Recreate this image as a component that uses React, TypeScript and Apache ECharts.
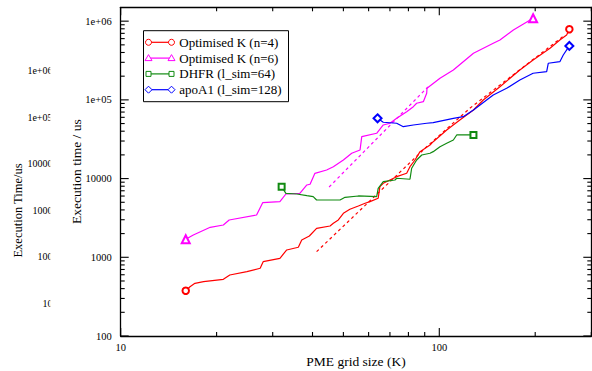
import React, { useEffect, useRef } from 'react';
import * as echarts from 'echarts';

// ---------- data ----------
const xMin = 10;
const xMax = 300;
const yMin = 100;
const yMax = 1500000;

const xMajorTicks = [10, 100];
const xMinorTicks = [20, 30, 40, 50, 60, 70, 80, 90, 200, 300];
const yMajorTicks = [100, 1000, 10000, 100000, 1000000];
const yMinorTicks = [
  200, 300, 400, 500, 600, 700, 800, 900,
  2000, 3000, 4000, 5000, 6000, 7000, 8000, 9000,
  20000, 30000, 40000, 50000, 60000, 70000, 80000, 90000,
  200000, 300000, 400000, 500000, 600000, 700000, 800000, 900000,
];

const seriesNames = ['Optimised K (n=4)', 'Optimised K (n=6)', 'DHFR (l_sim=64)', 'apoA1 (l_sim=128)'];
const seriesColors = ['#ff0000', '#ff00ff', '#118a11', '#0000ff'];
const seriesSymbols = ['emptyCircle', 'emptyTriangle', 'emptyRect', 'emptyDiamond'];

const optK4 = [
  [16, 376], [16.5, 423], [17.1, 467], [18.2, 490], [21, 525], [22, 596], [24.9, 656], [27.4, 725],
  [28, 879], [31.6, 971], [33.2, 1239], [36.1, 1340], [37, 1660], [39.1, 1865], [41.2, 2336],
  [45.4, 2499], [46.5, 2704], [48.2, 2978], [50, 3622], [52.4, 4074], [55.7, 4487], [58.5, 4855],
  [60.6, 5088], [64.3, 5620], [65.1, 7890], [66.7, 8710], [73.5, 10570], [79, 11670], [80.9, 14160],
  [83.9, 17220], [87, 21980], [93.5, 26730], [95.7, 29430], [105.5, 41470], [116, 55540],
  [128, 74400], [137.4, 99700], [155, 147100], [179, 239900], [197, 321400], [222.6, 452500],
  [239, 576700], [251, 667700], [256, 788500],
];

const optK6 = [
  [16, 1693], [16.9, 1920], [19.1, 2404], [21, 2573], [21.9, 2978], [26.7, 3447], [27.9, 4940],
  [31.6, 5088], [33, 6370], [36.5, 6500], [38.4, 8295], [39.3, 8465], [40.7, 11670], [44.3, 12850],
  [46.5, 14160], [50, 17220], [53.1, 20970], [56.4, 23090], [57.1, 34080], [63.6, 37630],
  [66.7, 47970], [70, 50430], [73.5, 58340], [79, 70800], [82.9, 81960], [84.9, 90570],
  [89.1, 94900], [91.3, 121300], [91.5, 140300], [100.5, 188200], [110.7, 239900], [128, 391000],
  [147.7, 523600], [155, 576700], [170.8, 772700], [197, 1088000],
];

const dhfr = [
  [32, 7890], [33, 6500], [35.7, 6370], [38.4, 6064], [40.2, 5890], [41.2, 5346], [48.8, 5346],
  [50.6, 5786], [55.7, 6012], [63.6, 5890], [64.3, 7528], [66.7, 9133], [72.6, 9596], [73.5, 10090],
  [80.9, 9800], [81.9, 13520], [84.9, 17220], [88.1, 19950], [93.5, 20970], [95.7, 21980],
  [100.5, 25430], [105.5, 28090], [110.7, 30940], [113.4, 35810], [128, 35810],
];

const apoA1 = [
  [64, 58340], [66.7, 51920], [73.5, 50430], [77.1, 45640], [82.9, 47970], [91.3, 50430],
  [95.7, 51290], [110.7, 58340], [118.9, 61150], [128, 74400], [140.8, 99700], [147.7, 115400],
  [162.7, 140300], [179, 179000], [197, 217800], [217.3, 228000], [219.8, 291700], [239, 305800],
  [245, 372000], [256, 484200],
];

const optK4Fit = [[41.2, 1178], [91.3, 25430], [125, 78900], [248, 667700]];
const optK6Fit = [[45.1, 7820], [92.1, 145900]];

const ghostTickLabels = ['1e+06', '1e+05', '10000', '1000', '100', '10'];
const ghostAxisTitle = 'Execution Time/us';

const xTitle = 'PME grid size (K)';
const yTitle = 'Execution time / us';

// ---------- layout ----------
const W = 592;
const H = 371;
const GRID = { left: 120.7, right: 0.7, top: 7.3, bottom: 35 };
const MAJOR_LEN = 8;
const MINOR_LEN = 4;

// ---------- helpers ----------
const FONT = "'Liberation Serif', 'Times New Roman', serif";
const lg = (v: number) => Math.log10(v);

const fmtY = (v: number) => {
  const e = Math.round(v);
  if (e >= 5) return '1e+' + String(e).padStart(2, '0');
  return String(Math.round(Math.pow(10, v)));
};
const fmtX = (v: number) => String(Math.round(Math.pow(10, v)));

function decoAxis(kind: 'x' | 'y', position: string, labels: number[] | null, name?: string) {
  const min = kind === 'x' ? lg(xMin) : lg(yMin);
  const max = kind === 'x' ? lg(xMax) : lg(yMax);
  const ax: any = {
    type: 'value',
    position,
    min,
    max,
    z: 5,
    splitLine: { show: false },
    axisLine: { show: true, onZero: false, lineStyle: { color: '#000', width: 1.3 } },
    axisTick: { show: false },
    axisLabel: labels
      ? {
          show: true,
          customValues: labels.map(lg),
          formatter: kind === 'x' ? fmtX : fmtY,
          fontFamily: FONT,
          fontSize: 10.5,
          color: '#000',
          margin: kind === 'x' ? 6 : 9,
        }
      : { show: false },
  };
  if (name) {
    ax.name = name;
    ax.nameLocation = 'middle';
    ax.nameMoveOverlap = false;
    ax.nameTextStyle = { fontFamily: FONT, fontSize: 13.5, color: '#000' };
    ax.nameGap = kind === 'x' ? 18 : 37;
    if (kind === 'y') ax.nameRotate = 90;
  }
  return ax;
}

function buildLegend(): any[] {
  const legendTop = 42.3;
  const legendStep = 15.8;
  const els: any[] = [
    {
      type: 'rect',
      shape: { x: 143.5, y: 30.7, width: 145, height: 71 },
      style: { fill: '#fff', stroke: '#000', lineWidth: 1 },
      z: 10,
    },
  ];
  seriesNames.forEach((nm, i) => {
    const cy = legendTop + i * legendStep;
    const c = seriesColors[i];
    const x1 = 148.5;
    const x2 = 171.5;
    els.push({
      type: 'line',
      shape: { x1, y1: cy, x2, y2: cy },
      style: { stroke: c, lineWidth: 1.2 },
      z: 11,
    });
    [x1, x2].forEach((cx) => {
      const st = { fill: '#fff', stroke: c, lineWidth: 1 };
      let el: any;
      if (i === 0) el = { type: 'circle', shape: { cx, cy, r: 3 }, style: st };
      else if (i === 1)
        el = { type: 'polygon', shape: { points: [[cx, cy - 3.5], [cx - 3.5, cy + 2.5], [cx + 3.5, cy + 2.5]] }, style: st };
      else if (i === 2) el = { type: 'rect', shape: { x: cx - 2.5, y: cy - 2.5, width: 5, height: 5 }, style: st };
      else el = { type: 'polygon', shape: { points: [[cx, cy - 3.5], [cx + 3.5, cy], [cx, cy + 3.5], [cx - 3.5, cy]] }, style: st };
      el.z = 12;
      els.push(el);
    });
    els.push({
      type: 'text',
      x: 179.3,
      y: cy,
      style: { text: nm, fontFamily: FONT, fontSize: 13, fill: '#000', align: 'left', verticalAlign: 'middle' },
      z: 12,
    });
  });
  return els;
}

function buildGhost(): any[] {
  const els: any[] = ghostTickLabels.map((t, i) => ({
    type: 'text',
    x: 52.5,
    y: 70.5 + i * 46.5,
    style: { text: t, fontFamily: FONT, fontSize: 10, fill: '#000', align: 'right', verticalAlign: 'middle' },
    z: 1,
  }));
  els.push({
    type: 'rect',
    shape: { x: 50.3, y: 40, width: 12, height: 290 },
    style: { fill: '#fff' },
    z: 2,
  });
  els.push({
    type: 'text',
    x: 18,
    y: 210.5,
    rotation: Math.PI / 2,
    style: { text: ghostAxisTitle, fontFamily: FONT, fontSize: 12.5, fill: '#000', align: 'center', verticalAlign: 'middle' },
    z: 1,
  });
  return els;
}

// tick marks as thin rect symbols of scatter series placed on the log scales
function tickSeries(): any[] {
  const bottom: any[] = [];
  const top: any[] = [];
  const left: any[] = [];
  const right: any[] = [];
  const addX = (v: number, len: number) => {
    bottom.push({ value: [v, yMin], symbolSize: [1.1, len], symbolOffset: [0, -len / 2] });
    top.push({ value: [v, yMax], symbolSize: [1.1, len], symbolOffset: [0, len / 2] });
  };
  const addY = (v: number, len: number) => {
    left.push({ value: [xMin, v], symbolSize: [len, 1.1], symbolOffset: [len / 2, 0] });
    right.push({ value: [xMax, v], symbolSize: [len, 1.1], symbolOffset: [-len / 2, 0] });
  };
  xMajorTicks.forEach((v) => addX(v, MAJOR_LEN));
  xMinorTicks.forEach((v) => addX(v, MINOR_LEN));
  yMajorTicks.forEach((v) => addY(v, MAJOR_LEN));
  yMinorTicks.forEach((v) => addY(v, MINOR_LEN));
  return [bottom, top, left, right].map((data, i) => ({
    type: 'scatter',
    name: 'ticks' + i,
    xAxisIndex: 0,
    yAxisIndex: 0,
    symbol: 'rect',
    data,
    clip: false,
    silent: true,
    itemStyle: { color: '#000', opacity: 1 },
    emphasis: { disabled: true },
    z: 20,
  }));
}

export default function App() {
  const ref = useRef<HTMLDivElement>(null);

  useEffect(() => {
    if (!ref.current) return;
    const chart = echarts.init(ref.current, undefined, { renderer: 'svg' });

    const mainSeries = [optK4, optK6, dhfr, apoA1].map((data, i) => ({
      type: 'line',
      name: seriesNames[i],
      data,
      xAxisIndex: 0,
      yAxisIndex: 0,
      symbol: seriesSymbols[i],
      symbolSize: (_v: any, p: any) =>
        p.dataIndex === 0 || p.dataIndex === data.length - 1 ? (i === 0 ? 6.5 : i === 2 ? 6 : 8) : 0,
      showSymbol: true,
      lineStyle: { color: seriesColors[i], width: 1.2 },
      itemStyle: { color: seriesColors[i], borderWidth: 1 },
      emphasis: { disabled: true },
      z: 3,
    }));

    const fitSeries = [optK4Fit, optK6Fit].map((data, i) => ({
      type: 'line',
      name: seriesNames[i] + ' fit',
      data,
      xAxisIndex: 0,
      yAxisIndex: 0,
      symbol: 'none',
      lineStyle: { color: seriesColors[i], width: 1.2, type: [3, 3] },
      emphasis: { disabled: true },
      z: 2,
    }));

    const hiddenLog = (kind: 'x' | 'y') => ({
      type: 'log',
      logBase: 10,
      min: kind === 'x' ? xMin : yMin,
      max: kind === 'x' ? xMax : yMax,
      show: false,
      splitLine: { show: false },
    });

    chart.setOption({
      animation: false,
      backgroundColor: '#fff',
      textStyle: { fontFamily: FONT },
      grid: {
        left: GRID.left,
        right: GRID.right,
        top: GRID.top,
        bottom: GRID.bottom,
        containLabel: false,
        outerBoundsMode: 'none',
      },
      xAxis: [
        hiddenLog('x'),
        decoAxis('x', 'bottom', xMajorTicks, xTitle),
        decoAxis('x', 'top', null),
      ],
      yAxis: [
        hiddenLog('y'),
        decoAxis('y', 'left', yMajorTicks, yTitle),
        decoAxis('y', 'right', null),
      ],
      series: [...fitSeries, ...mainSeries, ...tickSeries()],
      graphic: { elements: [...buildGhost(), ...buildLegend()] },
    } as any);

    return () => chart.dispose();
  }, []);

  return (
    <div
      ref={ref}
      style={{ position: 'absolute', left: 0, top: 0, width: W, height: H, background: '#fff' }}
    />
  );
}
